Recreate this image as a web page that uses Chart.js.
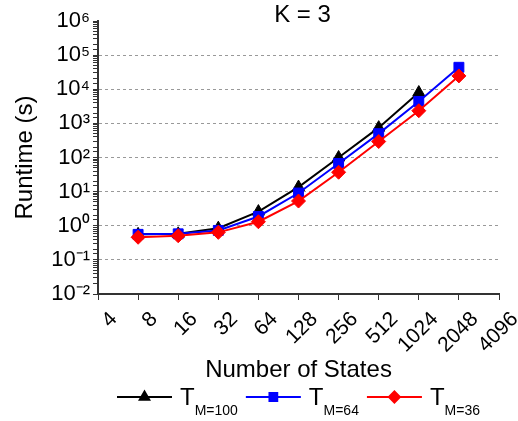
<!DOCTYPE html>
<html>
<head>
<meta charset="utf-8">
<script src="https://cdn.jsdelivr.net/npm/chart.js@4.4.1/dist/chart.umd.min.js"></script>
<style>
  html, body { margin: 0; padding: 0; background: #fff; }
  #wrap { width: 518px; height: 421px; position: relative; }
</style>
</head>
<body>
<div id="wrap"><canvas id="chart"></canvas></div>
<script>
// Runtime vs number of states, K = 3 (log-log)
const states = ['4', '8', '16', '32', '64', '128', '256', '512', '1024', '2048', '4096'];
const tm100 = [null, 0.56, 0.58, 0.85, 2.6, 13.6, 100, 750, 8000, null, null];
const tm64 = [null, 0.56, 0.58, 0.73, 1.87, 9.1, 67, 500, 4400, 44000, null];
const tm36 = [null, 0.46, 0.51, 0.64, 1.31, 5.3, 37, 294, 2350, 24600, null];

const seriesBase = ['T', 'T', 'T'];
const seriesSub = ['M=100', 'M=64', 'M=36'];
const seriesColors = ['#000000', '#0000ff', '#ff0000'];
const seriesMarkers = ['triangle', 'rect', 'rectRot'];

const FONT = "'Liberation Sans', Arial, sans-serif";
const SUP = { '0': '⁰', '1': '¹', '2': '²', '3': '³', '4': '⁴', '5': '⁵', '6': '⁶', '7': '⁷', '8': '⁸', '9': '⁹', '-': '⁻' };

function isDecade(v) {
  const e = Math.log10(v);
  return Math.abs(e - Math.round(e)) < 1e-6;
}

function supText(n) {
  return String(n).split('').map(c => SUP[c]).join('');
}

// title + legend with subscripts, drawn on the canvas
const extras = {
  id: 'extras',
  afterDraw(chart) {
    const ctx = chart.ctx;
    const area = chart.chartArea;
    const cx = (area.left + area.right) / 2;
    ctx.save();
    ctx.fillStyle = '#000';
    ctx.font = '24px ' + FONT;
    ctx.textAlign = 'center';
    ctx.textBaseline = 'alphabetic';
    ctx.fillText('K = 3', cx + 4, 22);

    // legend
    const lineLen = 55;
    const mainFont = '24px ' + FONT;
    const subFont = '14px ' + FONT;
    const widths = seriesBase.map((b, i) => {
      ctx.font = mainFont;
      const w1 = ctx.measureText(b).width;
      ctx.font = subFont;
      const w2 = ctx.measureText(seriesSub[i]).width;
      return { w1, w2 };
    });
    const gapAfterLine = 8, gapItem = 8;
    let total = 0;
    widths.forEach((w, i) => {
      total += lineLen + gapAfterLine + w.w1 + w.w2 + (i < widths.length - 1 ? gapItem : 0);
    });
    let x = cx - total / 2;
    const ly = 397;
    ctx.textAlign = 'left';
    widths.forEach((w, i) => {
      ctx.strokeStyle = seriesColors[i];
      ctx.lineWidth = 2;
      ctx.beginPath();
      ctx.moveTo(x, ly);
      ctx.lineTo(x + lineLen, ly);
      ctx.stroke();
      ctx.fillStyle = seriesColors[i];
      Chart.helpers.drawPoint(ctx, { pointStyle: seriesMarkers[i], radius: 5.5, rotation: 0, borderWidth: 1 }, x + lineLen / 2, ly);
      x += lineLen + gapAfterLine;
      ctx.fillStyle = '#000';
      ctx.font = mainFont;
      ctx.fillText(seriesBase[i], x, 405);
      x += w.w1;
      ctx.font = subFont;
      ctx.fillText(seriesSub[i], x, 415);
      x += w.w2 + gapItem;
    });
    ctx.restore();
  }
};

function makeSet(label, data, i, order) {
  return {
    label,
    data,
    borderColor: seriesColors[i],
    backgroundColor: seriesColors[i],
    borderWidth: 2,
    pointStyle: seriesMarkers[i],
    pointRadius: 7,
    pointHoverRadius: 7,
    pointBorderWidth: 1,
    tension: 0,
    order
  };
}

new Chart(document.getElementById('chart'), {
  type: 'line',
  data: {
    labels: states,
    datasets: [
      makeSet('T M=100', tm100, 0, 3),
      makeSet('T M=64', tm64, 1, 2),
      makeSet('T M=36', tm36, 2, 1),
    ],
  },
  options: {
    responsive: true,
    maintainAspectRatio: false,
    animation: false,
    layout: { padding: { left: 0, right: 19, top: 21, bottom: 39 } },
    plugins: {
      legend: { display: false },
      title: { display: false },
      tooltip: { enabled: false },
    },
    scales: {
      x: {
        type: 'category',
        offset: false,
        afterFit: (s) => { s.height = 88; s.paddingLeft = 0; s.paddingRight = 0; },
        grid: { drawOnChartArea: false, tickColor: '#333', tickLength: 6 },
        border: { color: '#333', width: 2 },
        ticks: {
          color: '#000',
          font: { family: FONT, size: 21 },
          minRotation: 45,
          maxRotation: 45,
          autoSkip: false,
          labelOffset: 16,
          padding: 7,
        },
        title: {
          display: true,
          text: 'Number of States',
          color: '#000',
          font: { family: FONT, size: 24, lineHeight: 1 },
          padding: 0,
        },
      },
      y: {
        type: 'logarithmic',
        min: 0.01,
        max: 1e6,
        afterFit: (s) => { s.width = 98; s.paddingTop = 0; s.paddingBottom = 0; },
        grid: {
          color: (c) => {
            const v = c.tick && c.tick.value;
            return v && isDecade(v) && v < 1e6 && v > 0.01 ? '#999' : 'rgba(0,0,0,0)';
          },
          tickColor: '#333',
          tickLength: 5,
        },
        border: { color: '#333', width: 2, dash: [3, 3] },
        ticks: {
          color: '#000',
          font: { family: FONT, size: 22 },
          autoSkip: false,
          padding: 3,
          callback: (v) => isDecade(v) ? '10' + supText(Math.round(Math.log10(v))) : '',
        },
        title: {
          display: true,
          text: 'Runtime (s)',
          color: '#000',
          font: { family: FONT, size: 24, lineHeight: 1 },
          padding: { top: 13, bottom: 0 },
        },
      },
    },
  },
  plugins: [extras],
});
</script>
</body>
</html>
